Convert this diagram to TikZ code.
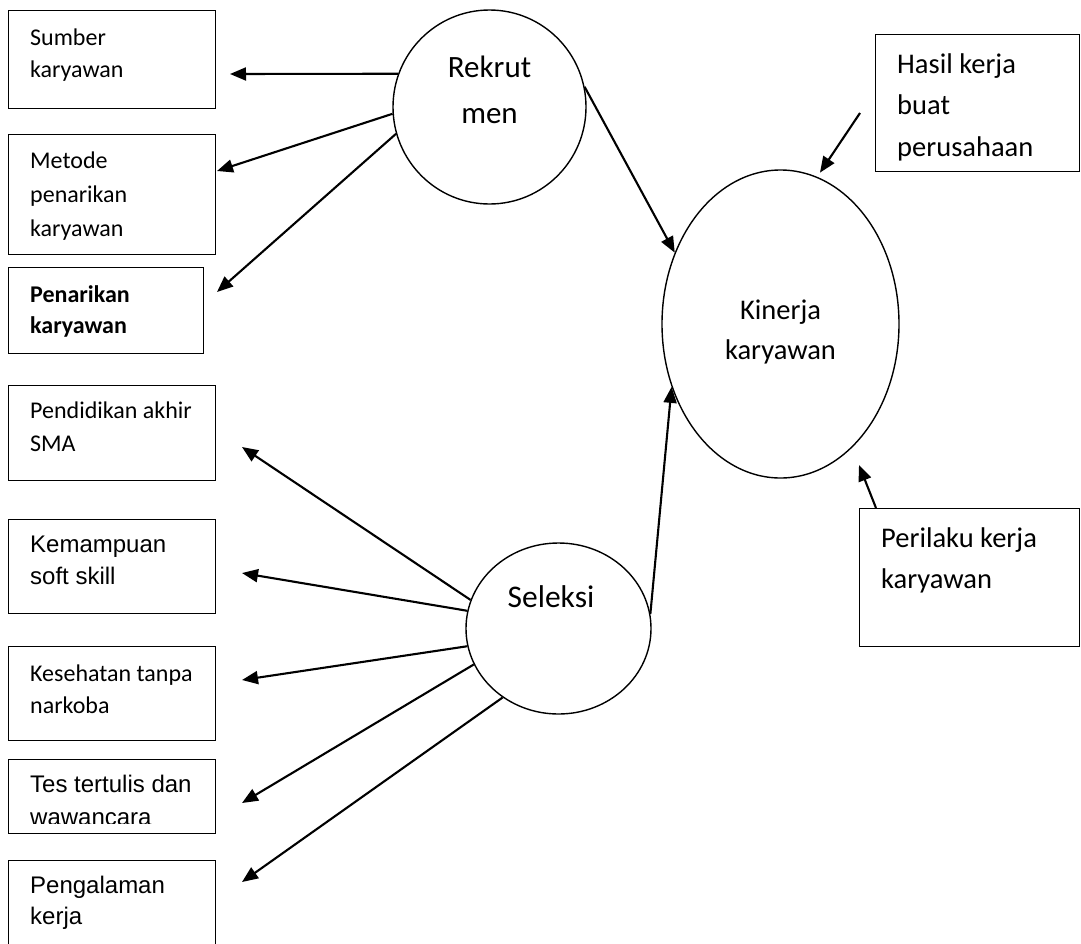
\documentclass[tikz,border=0pt]{standalone}
\usepackage{fontspec}
\setmainfont{Carlito}
\newfontfamily\arialfont{Liberation Sans}
\usetikzlibrary{arrows.meta,shapes.geometric}
\newcommand\boxtext[3]{\parbox[t]{200pt}{\raggedright\fontsize{#1}{#2}\selectfont #3}}
\newcommand\cboxtext[3]{\parbox[t]{200pt}{\centering\fontsize{#1}{#2}\selectfont #3}}
\tikzset{
  box/.style={draw, line width=1.4pt, rectangle, inner sep=0pt, anchor=north west},
  oval/.style={draw, line width=1.4pt, ellipse, inner sep=0pt},
  txt/.style={inner sep=0pt, anchor=base west},
  ctxt/.style={inner sep=0pt, anchor=base},
  arr/.style={line width=2.1pt, -{Triangle[length=16pt,width=13pt]}},
}
\begin{document}
\begin{tikzpicture}[x=1pt,y=-1pt]
\useasboundingbox (0,0) rectangle (1081,943);
\fill[white] (0,0) rectangle (1081,943);
\clip (0,0) rectangle (1081,943);
% boxes
\node[box, minimum width=207pt, minimum height=98pt] (b1) at (8,10) {};
\node[box, minimum width=207pt, minimum height=120pt] (b2) at (8,134) {};
\node[box, minimum width=195pt, minimum height=86pt] (b3) at (8,267) {};
\node[box, minimum width=207pt, minimum height=95pt] (b4) at (8,385) {};
\node[box, minimum width=207pt, minimum height=94pt] (b5) at (8,519) {};
\node[box, minimum width=207pt, minimum height=94pt] (b6) at (8,646) {};
\node[box, minimum width=207pt, minimum height=74pt] (b7) at (8,759) {};
\node[box, minimum width=207pt, minimum height=95pt] (b8) at (8,860) {};
\node[box, minimum width=204pt, minimum height=137pt] (hb) at (875,34) {};
\node[box, minimum width=220pt, minimum height=138pt] (pb) at (859,508) {};
% ellipses
\node[oval, minimum width=193pt, minimum height=194pt] (rek) at (489.5,107) {};
\node[oval, minimum width=237pt, minimum height=308pt] (kin) at (780.5,324) {};
\node[oval, minimum width=185pt, minimum height=171pt] (sel) at (558.5,628.5) {};
% texts
\node[txt] (t1) at (30,45) {\boxtext{24}{32.5}{Sumber\\karyawan}};
\node[txt] (t2) at (30,168) {\boxtext{24}{34}{Metode\\penarikan\\karyawan}};
\node[txt] (t3) at (30,302) {\boxtext{24}{31}{\bfseries Penarikan\\karyawan}};
\node[txt] (t4) at (30,418) {\boxtext{24}{33.5}{Pendidikan akhir\\SMA}};
\node[txt] (t5) at (30,552) {\boxtext{24}{32}{\arialfont Kemampuan\\soft skill}};
\node[txt] (t6) at (30,681) {\boxtext{24}{32}{Kesehatan tanpa\\narkoba}};
\begin{scope}
\clip (8,759) rectangle (215,823);
\node[txt] (t7) at (30,792) {\boxtext{24}{33}{\arialfont Tes tertulis dan\\wawancara}};
\end{scope}
\node[txt] (t8) at (30,893) {\boxtext{24}{31}{\arialfont Pengalaman\\kerja}};
\node[txt] (th) at (897,73) {\boxtext{28.5}{41.5}{Hasil kerja\\buat\\perusahaan}};
\node[txt] (tp) at (881,547) {\boxtext{28.5}{41}{Perilaku kerja\\karyawan}};
\node[ctxt] (tr) at (489.5,77) {\cboxtext{31}{46}{Rekrut\\men}};
\node[ctxt] (tk) at (780.5,319) {\cboxtext{28.5}{40}{Kinerja\\karyawan}};
\node[ctxt] (ts) at (551,607) {\cboxtext{31.5}{38}{Seleksi}};
% arrow ends
\coordinate (p1) at (230,74);
\coordinate (p2) at (217,171);
\coordinate (p3) at (217,292);
\coordinate (p4) at (242,447);
\coordinate (p5) at (242,573);
\coordinate (p6) at (242,680);
\coordinate (p7) at (242,803);
\coordinate (p8) at (242,882);
\coordinate (hs) at (860,113);
\coordinate (pt) at (859,465);
% arrows
\draw[arr] (rek.160) -- (p1);
\draw[arr] (rek.184) -- (p2);
\draw[arr] (rek.196) -- (p3);
\draw[arr] (rek.12) -- (kin.146.6);
\draw[arr] (sel.162) -- (p4);
\draw[arr] (sel.169.8) -- (p5);
\draw[arr] (sel.191.5) -- (p6);
\draw[arr] (sel.203.7) -- (p7);
\draw[arr] (sel.231.7) -- (p8);
\draw[arr] (sel.9.6) -- (kin.210.8);
\draw[arr, shorten >=5pt] (hs) -- (kin.76);
\draw[arr] ([xshift=17pt]pb.north west) -- (pt);
\end{tikzpicture}
\end{document}
